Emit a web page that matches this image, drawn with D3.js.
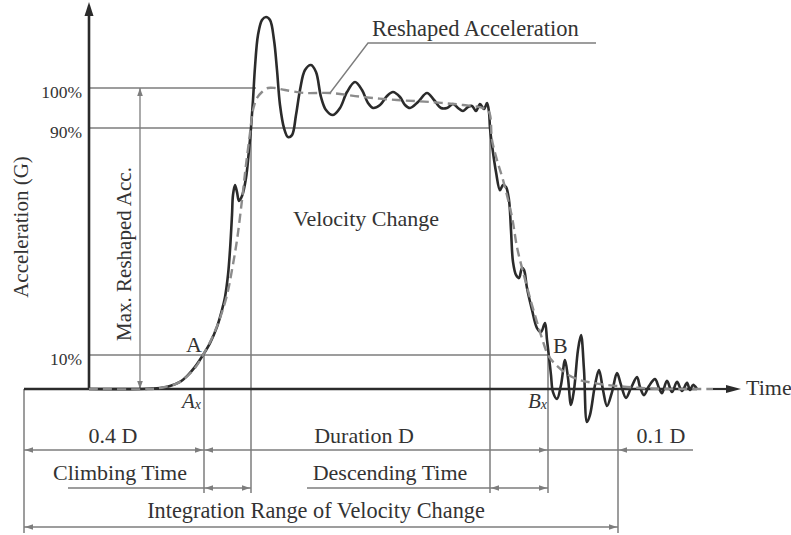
<!DOCTYPE html>
<html><head><meta charset="utf-8">
<script src="https://cdn.jsdelivr.net/npm/d3@7"></script>
<style>
html,body{margin:0;padding:0;background:#fff;}
svg{display:block;font-family:"Liberation Serif","Times New Roman",serif;}
</style></head><body>
<svg id="chart" width="791" height="535"></svg>
<script>
// Measured crash pulse: time (ms) and acceleration (% of max reshaped acceleration)
const measuredTime = [16.25, 29, 34, 36.5, 39, 40.75, 42.75, 44.75, 46.5, 48.25, 49.5, 50.25, 51, 51.5, 52, 52.25, 52.75, 53.25, 53.75, 54.5, 55.5, 56.25, 56.75, 57.25, 57.75, 58.5, 59.5, 60.5, 61.5, 62.5, 63.25, 64, 65, 66, 67, 68, 69, 70.25, 71.75, 73, 74.25, 75.5, 77.25, 79, 80.75, 82.75, 84.5, 86, 87.25, 89, 90.75, 92.25, 94, 95.25, 96.5, 98.5, 100.75, 102.5, 104.25, 105.75, 107.25, 108.5, 109.75, 111, 112, 113, 114, 115, 115.75, 116.25, 116.5, 117, 118, 119, 119.75, 120.5, 121.25, 121.75, 122.25, 123, 123.75, 124.5, 125, 125.75, 127, 128.25, 129.25, 130.25, 130.75, 131.25, 131.75, 132.25, 133.25, 134.25, 135.25, 136, 136.75, 137.5, 138.5, 139.25, 140, 140.75, 141.5, 142.75, 143.75, 144.75, 145.75, 147, 148.25, 149.25, 150.5, 151.75, 153.25, 154, 155, 156.25, 157.75, 158.75, 159.5, 160.75, 162, 163.25, 164.5, 165.75, 166.5, 167.25, 168.25];
const measuredAcc = [0, 0, 0.3, 0.9, 2.1, 3.8, 6.5, 10, 14.2, 19.9, 25.9, 30.4, 38.2, 47, 59.3, 66.4, 69.9, 67.4, 64.3, 66, 72.4, 82.2, 90, 97, 105.25, 113.25, 117, 117.75, 117, 112, 104.5, 95.75, 90, 86.8, 87.5, 93.25, 99.5, 104.5, 105.75, 104, 97.75, 94.5, 93.25, 95, 99, 101.5, 99.5, 96.25, 95, 95.75, 98, 99, 97.75, 95.75, 95, 96.5, 98.75, 97, 95, 95, 96, 95, 94.25, 95.25, 95.5, 94.25, 96, 94.75, 96.25, 94, 90, 84, 74.5, 68.1, 69.9, 69.2, 64.6, 54, 42.8, 38.2, 37.1, 40.7, 40, 33.6, 25.9, 19.5, 18.1, 21.3, 15.3, 9.4, 4.1, -0.9, -2.9, 1.2, 8.5, 3.2, -4.7, -0.3, 11.8, 17, 5.6, -9.7, -7.6, 1.2, 5.6, -0.3, -5, -0.9, 4.7, 1.2, -2.6, 0.3, 3.5, 0.6, -1.8, 0.9, 2.9, 0.3, -1.2, 2.4, -0.9, 2.1, -0.6, 1.8, -0.3, 1.2, 0];

// Reshaped (filtered) acceleration
const reshapedTime = [16.25, 31.5, 35.25, 39, 42.75, 44.75, 47, 49, 50.75, 52, 53.25, 54.5, 55.5, 56.5, 57.25, 58.25, 59.5, 61, 62.75, 65.25, 70.25, 76.5, 84.75, 93.25, 101.5, 109.75, 114.75, 116.25, 117, 118.25, 119.75, 122, 123.25, 124.5, 125.75, 127, 128.25, 129.5, 131, 132.75, 135.75, 139, 142.25, 145.75, 150.75, 156.5, 164, 172.25];
const reshapedAcc = [0, 0, 0.6, 2.1, 6.2, 10, 16, 23, 31.1, 40, 50.5, 64.6, 77, 88.2, 94.5, 97.5, 99, 100, 100, 99.5, 98.75, 98.75, 97.75, 97, 96.5, 95.75, 95, 94, 85.8, 78.7, 71.7, 58.6, 48, 40.7, 34, 27.6, 21.6, 15.9, 10, 7.4, 4.4, 2.6, 1.8, 1.2, 0.6, 0.15, 0, 0];

// Reference levels on the acceleration axis
const levelValues = [10, 90, 100];
const levelLabels = ["10%", "90%", "100%"];

// Characteristic instants (ms)
const tRangeStart = 0;     // start of the integration range
const tAxis = 16.25;       // time origin of the plot
const tA = 45;             // 10% on the rise (A)
const t90Rise = 56.75;     // 90% on the rise
const t100 = 58;           // reshaped curve reaches its maximum level
const t90Fall = 116.5;     // 90% on the fall
const tB = 131;            // 10% on the fall (B)
const tRangeEnd = 148.5;   // end of the integration range (B + 0.1 D)
const tLeaderTarget = 76.5;// point on the reshaped curve named by its leader
const tAxisEnd = 179.25;   // arrow tip of the time axis

const svg = d3.select("#chart");

const x = d3.scaleLinear().domain([0, 180]).range([24, 744]);
// Piecewise scale keeps the labelled reference levels at their drawn heights
const y = d3.scaleLinear().domain([0, 10, 90, 100]).range([389, 355, 128, 88]);

const ink = "#2b2b2b", grid = "#7d7d7d", textCol = "#333";

function arrowHead(tx, ty, dir, len, half, color) {
  let pts;
  if (dir === "left") pts = [[tx, ty], [tx + len, ty - half], [tx + len, ty + half]];
  else if (dir === "right") pts = [[tx, ty], [tx - len, ty - half], [tx - len, ty + half]];
  else if (dir === "down") pts = [[tx, ty], [tx - half, ty - len], [tx + half, ty - len]];
  else pts = [[tx, ty], [tx - half, ty + len], [tx + half, ty + len]];
  svg.append("path").attr("d", "M" + pts.map(p => p.join(",")).join("L") + "Z").attr("fill", color);
}
function seg(x1, y1, x2, y2, color, w) {
  svg.append("line").attr("x1", x1).attr("y1", y1).attr("x2", x2).attr("y2", y2)
    .attr("stroke", color).attr("stroke-width", w);
}
function label(txt, tx, ty, anchor, size, extra) {
  const t = svg.append("text").attr("x", tx).attr("y", ty).attr("text-anchor", anchor || "start")
    .attr("font-size", size || 22).attr("fill", textCol).text(txt);
  if (extra) extra(t);
  return t;
}

// Reference level lines
seg(x(tAxis), y(100), x(t100), y(100), grid, 1.5);
seg(x(tAxis), y(90), x(t90Fall), y(90), grid, 1.5);
seg(x(tAxis), y(10), x(tB), y(10), grid, 1.5);

// Vertical guide lines down to the dimension rows
const row1 = 450, row2 = 488, row3 = 527;
seg(x(tA), y(10), x(tA), 493, grid, 1.5);
seg(x(t90Rise), y(90), x(t90Rise), 493, grid, 1.5);
seg(x(t90Fall), y(90), x(t90Fall), 493, grid, 1.5);
seg(x(tB), y(10), x(tB), 493, grid, 1.5);
seg(x(tRangeStart), y(0), x(tRangeStart), 533, grid, 1.5);
seg(x(tRangeEnd), y(0), x(tRangeEnd), 533, grid, 1.5);

// Max. reshaped acceleration span
seg(140, y(100), 140, y(0), grid, 1.3);
arrowHead(140, y(100), "up", 8, 2.8, grid);
arrowHead(140, y(0), "down", 8, 2.8, grid);

// Dimension rows
const ah = 8, hw = 2.8;
seg(x(tRangeStart), row1, 693, row1, grid, 1.4);
arrowHead(x(tRangeStart) + 1, row1, "left", ah, hw, grid);
arrowHead(x(tA) - 1, row1, "right", ah, hw, grid);
arrowHead(x(tA) + 1, row1, "left", ah, hw, grid);
arrowHead(x(tB) - 1, row1, "right", ah, hw, grid);
arrowHead(x(tRangeEnd) + 1, row1, "left", ah, hw, grid);

seg(68, row2, x(t90Rise), row2, grid, 1.4);
arrowHead(x(tA) + 1, row2, "left", ah, hw, grid);
arrowHead(x(t90Rise) - 1, row2, "right", ah, hw, grid);
seg(307, row2, x(tB), row2, grid, 1.4);
arrowHead(x(t90Fall) + 1, row2, "left", ah, hw, grid);
arrowHead(x(tB) - 1, row2, "right", ah, hw, grid);

seg(x(tRangeStart), row3, x(tRangeEnd), row3, grid, 1.4);
arrowHead(x(tRangeStart) + 1, row3, "left", ah, hw, grid);
arrowHead(x(tRangeEnd) - 1, row3, "right", ah, hw, grid);

// Axes
seg(x(tRangeStart), y(0), x(measuredTime[measuredTime.length - 1]), y(0), ink, 2.6);
seg(x(reshapedTime[reshapedTime.length - 1]), y(0), x(tAxisEnd) - 10, y(0), ink, 2.2);
arrowHead(x(tAxisEnd), y(0), "right", 15, 4, ink);
seg(x(tAxis), y(0), x(tAxis), 14, ink, 2.6);
arrowHead(x(tAxis), 2, "up", 14, 4.5, ink);

const yAxis = d3.axisLeft(y).tickValues(levelValues)
  .tickFormat((d, i) => levelLabels[i]).tickSize(0).tickPadding(7);
const gy = svg.append("g").attr("transform", `translate(${x(tAxis)},0)`).call(yAxis);
gy.select(".domain").remove();
gy.selectAll("text").attr("font-family", "Liberation Serif, serif").attr("font-size", 17.5)
  .attr("fill", textCol).attr("dy", "0.56em");

// Curves
const line = d3.line().x(d => x(d[0])).y(d => y(d[1])).curve(d3.curveCatmullRom.alpha(0.5));
svg.append("path").datum(measuredTime.map((t, i) => [t, measuredAcc[i]]))
  .attr("d", line).attr("fill", "none").attr("stroke", ink).attr("stroke-width", 2.6)
  .attr("stroke-linejoin", "round");
svg.append("path").datum(reshapedTime.map((t, i) => [t, reshapedAcc[i]]))
  .attr("d", line).attr("fill", "none").attr("stroke", "#8c8c8c").attr("stroke-width", 2.4)
  .attr("stroke-dasharray", "9 5");

// Leader for the reshaped curve
const leaderIdx = reshapedTime.indexOf(tLeaderTarget);
svg.append("path")
  .attr("d", `M${x(tLeaderTarget)},${y(reshapedAcc[leaderIdx])}L368,43L596,43`)
  .attr("fill", "none").attr("stroke", grid).attr("stroke-width", 1.4);

// Texts
label("Reshaped Acceleration", 372, 36, "start", 22.5);
label("Velocity Change", 366, 226, "middle", 22);
label("Time", 746, 395, "start", 22);
label("A", x(tA) - 2, 352, "end", 22);
label("B", x(tB) + 5, 353, "start", 22);
label("", x(tA) - 3, 408, "end", 21, t => {
  t.append("tspan").attr("font-style", "italic").text("A");
  t.append("tspan").attr("font-style", "italic").attr("font-size", 14).attr("dy", 1).text("x");
});
label("", x(tB) - 1, 408, "end", 21, t => {
  t.append("tspan").attr("font-style", "italic").text("B");
  t.append("tspan").attr("font-style", "italic").attr("font-size", 14).attr("dy", 1).text("x");
});
label("0.4 D", 113, 443, "middle");
label("Duration D", 364, 443, "middle");
label("0.1 D", 661, 443, "middle");
label("Climbing Time", 120, 480, "middle");
label("Descending Time", 390, 480, "middle");
label("Integration Range of Velocity Change", 316, 518, "middle", 22.3);
label("Acceleration (G)", 0, 0, "middle", 21, t => t.attr("transform", "translate(28,227) rotate(-90)"));
label("Max. Reshaped Acc.", 0, 0, "middle", 21, t => t.attr("transform", "translate(131,254) rotate(-90)"));
</script>
</body></html>
